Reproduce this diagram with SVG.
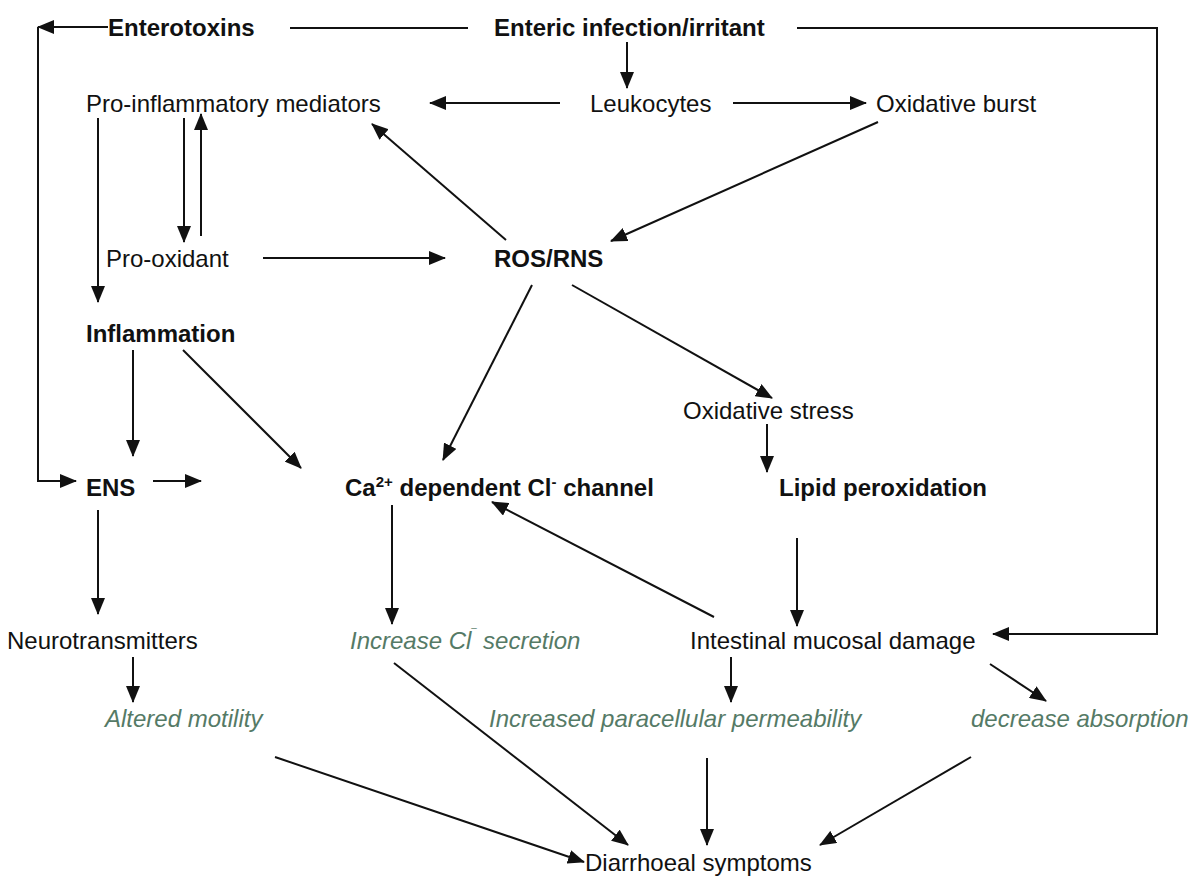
<svg xmlns="http://www.w3.org/2000/svg" width="1197" height="886" viewBox="0 0 1197 886">
<style>
.t{font-family:"Liberation Sans",Arial,sans-serif;font-size:24px;fill:#111}
.b{font-weight:bold}
.g{font-style:italic;fill:#557a66}
.c{stroke:#111;stroke-width:2;fill:none}
.a{marker-end:url(#ah)}
</style>
<defs>
<marker id="ah" markerUnits="userSpaceOnUse" markerWidth="18" markerHeight="14" refX="16" refY="7" orient="auto">
<path d="M0,0 L17,7 L0,14 Z" fill="#111"/>
</marker>
</defs>
<rect width="1197" height="886" fill="#fff"/>
<g id="connectors">
<path class="c a" d="M108,27 L38,27"/>
<path class="c a" d="M38,27 L38,481 L76,481"/>
<path class="c" d="M290,28 L468,28"/>
<path class="c a" d="M797,28 L1157,28 L1157,634 L993,634"/>
<path class="c a" d="M627,42 L627,88"/>
<path class="c a" d="M560,103 L430,103"/>
<path class="c a" d="M733,103 L866,103"/>
<path class="c a" d="M184,118 L184,242"/>
<path class="c a" d="M201,236 L201,114"/>
<path class="c a" d="M98,118 L98,302"/>
<path class="c a" d="M506,240 L372,124"/>
<path class="c a" d="M878,122 L611,241"/>
<path class="c a" d="M263,258 L445,258"/>
<path class="c a" d="M133,350 L133,456"/>
<path class="c a" d="M183,350 L301,468"/>
<path class="c a" d="M532,285 L443,460"/>
<path class="c a" d="M572,285 L772,398"/>
<path class="c a" d="M767,424 L767,472"/>
<path class="c a" d="M153,481 L201,481"/>
<path class="c a" d="M714,617 L492,502"/>
<path class="c a" d="M797,538 L797,626"/>
<path class="c a" d="M98,510 L98,614"/>
<path class="c a" d="M392,505 L392,624"/>
<path class="c a" d="M133,657 L133,702"/>
<path class="c a" d="M731,657 L731,702"/>
<path class="c a" d="M990,664 L1046,701"/>
<path class="c a" d="M275,757 L584,862"/>
<path class="c a" d="M394,663 L628,845"/>
<path class="c a" d="M707,758 L707,845"/>
<path class="c a" d="M971,757 L820,845"/>
</g>
<g id="n-enterotoxins"><text class="t b" x="108" y="36">Enterotoxins</text></g>
<g id="n-enteric"><text class="t b" x="494" y="36">Enteric infection/irritant</text></g>
<g id="n-proinflam"><text class="t" x="86" y="112">Pro-inflammatory mediators</text></g>
<g id="n-leukocytes"><text class="t" x="590" y="112">Leukocytes</text></g>
<g id="n-oxburst"><text class="t" x="876" y="112">Oxidative burst</text></g>
<g id="n-prooxidant"><text class="t" x="106" y="267">Pro-oxidant</text></g>
<g id="n-rosrns"><text class="t b" x="494" y="267">ROS/RNS</text></g>
<g id="n-inflammation"><text class="t b" x="86" y="342">Inflammation</text></g>
<g id="n-oxstress"><text class="t" x="683" y="419">Oxidative stress</text></g>
<g id="n-ens"><text class="t b" x="86" y="496">ENS</text></g>
<g id="n-cachannel"><text class="t b" x="345" y="496">Ca<tspan font-size="15" dy="-9">2+</tspan><tspan dy="9"> dependent Cl</tspan><tspan font-size="15" dy="-9">-</tspan><tspan dy="9"> channel</tspan></text></g>
<g id="n-lipid"><text class="t b" x="779" y="496">Lipid peroxidation</text></g>
<g id="n-neuro"><text class="t" x="7" y="649">Neurotransmitters</text></g>
<g id="n-clsecretion"><text class="t g" x="350" y="649">Increase Cl<tspan font-size="15" dy="-9">‾</tspan><tspan dy="9"> secretion</tspan></text></g>
<g id="n-mucosal"><text class="t" x="690" y="649">Intestinal mucosal damage</text></g>
<g id="n-motility"><text class="t g" x="105" y="727">Altered motility</text></g>
<g id="n-paracellular"><text class="t g" x="489" y="727">Increased paracellular permeability</text></g>
<g id="n-absorption"><text class="t g" x="971" y="727">decrease absorption</text></g>
<g id="n-diarrhoeal"><text class="t" x="585" y="871">Diarrhoeal symptoms</text></g>
</svg>
